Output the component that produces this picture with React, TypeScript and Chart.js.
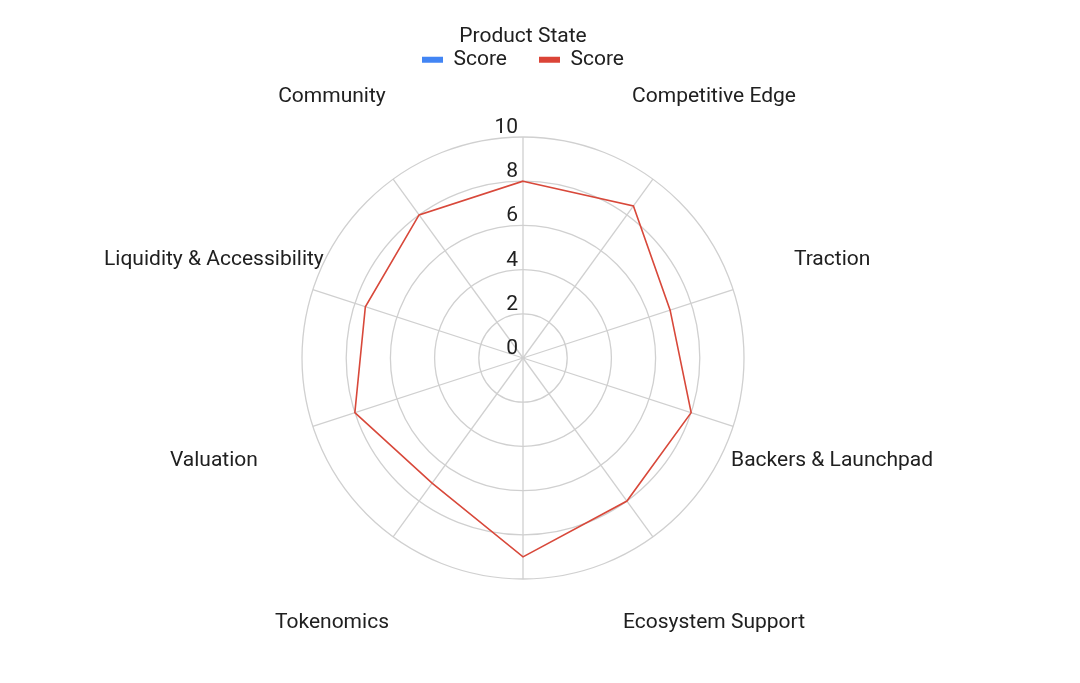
import { useEffect, useRef } from 'react';
import { Chart, registerables } from 'chart.js';

Chart.register(...registerables);

// ejes del radar (arriba y abajo sin etiqueta, como en el original)
const CATEGORIAS = [
  '',
  'Competitive Edge',
  'Traction',
  'Backers & Launchpad',
  'Ecosystem Support',
  '',
  'Tokenomics',
  'Valuation',
  'Liquidity & Accessibility',
  'Community',
];
const SCORE_AZUL: number[] = [];
const SCORE_ROJO = [8, 8.5, 7, 8, 8, 9, 7, 8, 7.5, 8];
const TICKS = [0, 2, 4, 6, 8, 10];

const FUENTE = 'Roboto, "Noto Sans", sans-serif';
const TEXTO = '#202020';
const REJILLA = '#d0d0d0';

// etiquetas centradas lejos del círculo y números del eje a la izquierda del radio superior
const etiquetasPlugin = {
  id: 'etiquetas',
  afterDraw(chart: any) {
    const scale = chart.scales.r;
    const ctx = chart.ctx;
    ctx.save();
    ctx.font = `21px ${FUENTE}`;
    ctx.fillStyle = TEXTO;
    ctx.textAlign = 'center';
    ctx.textBaseline = 'middle';
    CATEGORIAS.forEach((c, i) => {
      if (!c) return;
      const p = scale.getPointPosition(i, scale.drawingArea + 104);
      ctx.fillText(c, p.x, p.y + 2);
    });
    ctx.textAlign = 'right';
    ctx.textBaseline = 'alphabetic';
    scale.ticks.forEach((t: any) => {
      const p = scale.getPointPositionForValue(0, t.value);
      ctx.fillText(String(t.value), p.x - 5, p.y - 4);
    });
    ctx.restore();
  },
};

export default function App() {
  const canvasRef = useRef<HTMLCanvasElement | null>(null);
  const chartInstance = useRef<Chart | null>(null);

  useEffect(() => {
    if (canvasRef.current) {
      if (chartInstance.current) {
        chartInstance.current.destroy();
      }

      chartInstance.current = new Chart(canvasRef.current, {
        type: 'radar',
        data: {
          labels: CATEGORIAS,
          datasets: [
            {
              label: 'Score',
              data: SCORE_AZUL,
              borderColor: '#4285f4',
              backgroundColor: '#4285f4',
              borderWidth: 1.6,
              pointRadius: 0,
              fill: false,
            },
            {
              label: 'Score',
              data: SCORE_ROJO,
              borderColor: '#d8483a',
              backgroundColor: '#db4437',
              borderWidth: 1.6,
              pointRadius: 0,
              fill: false,
            },
          ],
        },
        options: {
          responsive: true,
          maintainAspectRatio: false,
          animation: false,
          layout: {
            padding: { top: 26, left: 302, right: 336, bottom: 46 },
          },
          plugins: {
            title: { display: false },
            tooltip: { enabled: false },
            legend: {
              position: 'top',
              fullSize: false,
              title: {
                display: true,
                text: 'Product State',
                color: TEXTO,
                font: { family: FUENTE, size: 21 },
                padding: { top: 0, bottom: -34 },
              },
              labels: {
                color: TEXTO,
                font: { family: FUENTE, size: 21 },
                boxWidth: 21,
                boxHeight: 6,
                padding: 32,
                generateLabels: (chart: any) =>
                  Chart.defaults.plugins.legend.labels
                    .generateLabels(chart)
                    .map((l: any) => ({ ...l, lineWidth: 0 })),
              },
            },
          },
          scales: {
            r: {
              min: 0,
              max: 10,
              beginAtZero: true,
              afterBuildTicks: (axis: any) => {
                axis.ticks = TICKS.map((v) => ({ value: v }));
              },
              ticks: { display: false },
              pointLabels: { display: false },
              grid: { circular: true, color: REJILLA, lineWidth: 1.3 },
              angleLines: { color: REJILLA, lineWidth: 1.3 },
            },
          },
        },
        plugins: [etiquetasPlugin],
      });
    }

    return () => {
      if (chartInstance.current) {
        chartInstance.current.destroy();
      }
    };
  }, []);

  return (
    <div style={{ position: 'fixed', left: 0, top: 0, width: 1080, height: 683, background: '#fff' }}>
      <canvas ref={canvasRef}></canvas>
    </div>
  );
}
